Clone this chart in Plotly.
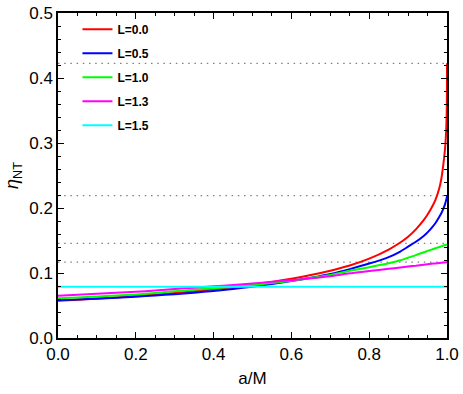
import plotly.graph_objects as go

a_vals = [0, 0.05, 0.1, 0.15, 0.2, 0.25, 0.3, 0.35, 0.4, 0.45, 0.5, 0.55, 0.6, 0.65, 0.7,
          0.75, 0.8, 0.85, 0.88, 0.9, 0.92, 0.94, 0.95, 0.96, 0.97, 0.98, 0.985, 0.99,
          0.995, 0.998, 0.999, 0.9995, 0.9999, 1.0]

eta_L00 = [0.0572, 0.0589, 0.0606, 0.0625, 0.0646, 0.0667, 0.0691, 0.0718, 0.0749, 0.0782,
           0.0821, 0.0863, 0.0912, 0.0969, 0.1036, 0.1116, 0.1221, 0.1361, 0.1469, 0.1558,
           0.1672, 0.1812, 0.1900, 0.2000, 0.2121, 0.2300, 0.2435, 0.2640, 0.2916, 0.3208,
           0.3413, 0.3560, 0.3830, 0.4226]
eta_L05 = [0.0580, 0.0592, 0.0605, 0.0619, 0.0635, 0.0654, 0.0675, 0.0698, 0.0725, 0.0755,
           0.0790, 0.0830, 0.0875, 0.0926, 0.0985, 0.1060, 0.1145, 0.1245, 0.1330, 0.1405,
           0.1480, 0.1570, 0.1625, 0.1690, 0.1765, 0.1860, 0.1915, 0.1980, 0.2060, 0.2125,
           0.2150, 0.2165, 0.2180, 0.2190]
eta_L10 = [0.0610, 0.0623, 0.0637, 0.0653, 0.0670, 0.0693, 0.0720, 0.0742, 0.0765, 0.0789,
           0.0815, 0.0845, 0.0880, 0.0922, 0.0970, 0.1035, 0.1090, 0.1150, 0.1195, 0.1235,
           0.1275, 0.1320, 0.1340, 0.1360, 0.1380, 0.1400, 0.1410, 0.1420, 0.1430, 0.1437,
           0.1440, 0.1442, 0.1444, 0.1445]
eta_L13 = [0.0650, 0.0665, 0.0680, 0.0695, 0.0710, 0.0732, 0.0755, 0.0775, 0.0795, 0.0817,
           0.0840, 0.0864, 0.0890, 0.0918, 0.0950, 0.0995, 0.1030, 0.1065, 0.1085, 0.1100,
           0.1112, 0.1127, 0.1135, 0.1142, 0.1148, 0.1155, 0.1158, 0.1160, 0.1163, 0.1165,
           0.1166, 0.1166, 0.1167, 0.1167]
eta_L15 = [0.0790] * len(a_vals)

series = [("L=0.0", eta_L00, "#FF0000"),
          ("L=0.5", eta_L05, "#0000FF"),
          ("L=1.0", eta_L10, "#00FF00"),
          ("L=1.3", eta_L13, "#FF00FF"),
          ("L=1.5", eta_L15, "#00FFFF")]

ref_levels = [0.4226, 0.219, 0.1455, 0.1167]

FONT = "Liberation Sans, Arial"

fig = go.Figure()
for i, (name, ys, col) in enumerate(series):
    fig.add_trace(go.Scatter(x=a_vals, y=ys, mode="lines", name="<b>" + name + "</b>",
                             line=dict(color=col, width=2, shape="spline", smoothing=0.6),
                             legendgroup=str(i)))

for lv in ref_levels:
    fig.add_hline(y=lv, line=dict(color="#808080", width=1.3, dash="1.5px,4.7px"), layer="below")

axis_common = dict(showline=True, linecolor="black", linewidth=1.5, mirror="allticks",
                   ticks="inside", ticklen=6, tickwidth=1.2, tickcolor="black",
                   showgrid=False, zeroline=False, automargin=False,
                   tickfont=dict(family=FONT, size=17, color="black"))

fig.update_xaxes(range=[0, 1], dtick=0.2, tickformat=".1f",
                 minor=dict(dtick=0.05, ticks="inside", ticklen=3, tickcolor="black"),
                 title=dict(text="a/M", font=dict(family=FONT, size=17, color="black"),
                            standoff=9),
                 **axis_common)
fig.update_yaxes(range=[0, 0.5], dtick=0.1, tickformat=".1f",
                 minor=dict(dtick=0.02, ticks="inside", ticklen=3, tickcolor="black"),
                 title=dict(text="<i>η</i><sub>NT</sub>", font=dict(family=FONT, size=18, color="black"),
                            standoff=6),
                 **axis_common)

fig.update_layout(
    width=463, height=394,
    margin=dict(l=58, r=16, t=13, b=56),
    paper_bgcolor="white", plot_bgcolor="white",
    legend=dict(x=0.05, y=0.995, xanchor="left", yanchor="top",
                bgcolor="rgba(0,0,0,0)", borderwidth=0, tracegroupgap=5,
                font=dict(family=FONT, size=12, color="black"),
                itemwidth=30),
    showlegend=True,
)

fig.write_html("out.html", config={"displayModeBar": False},
               post_script="document.body.style.margin='0';document.body.style.overflow='hidden';")
